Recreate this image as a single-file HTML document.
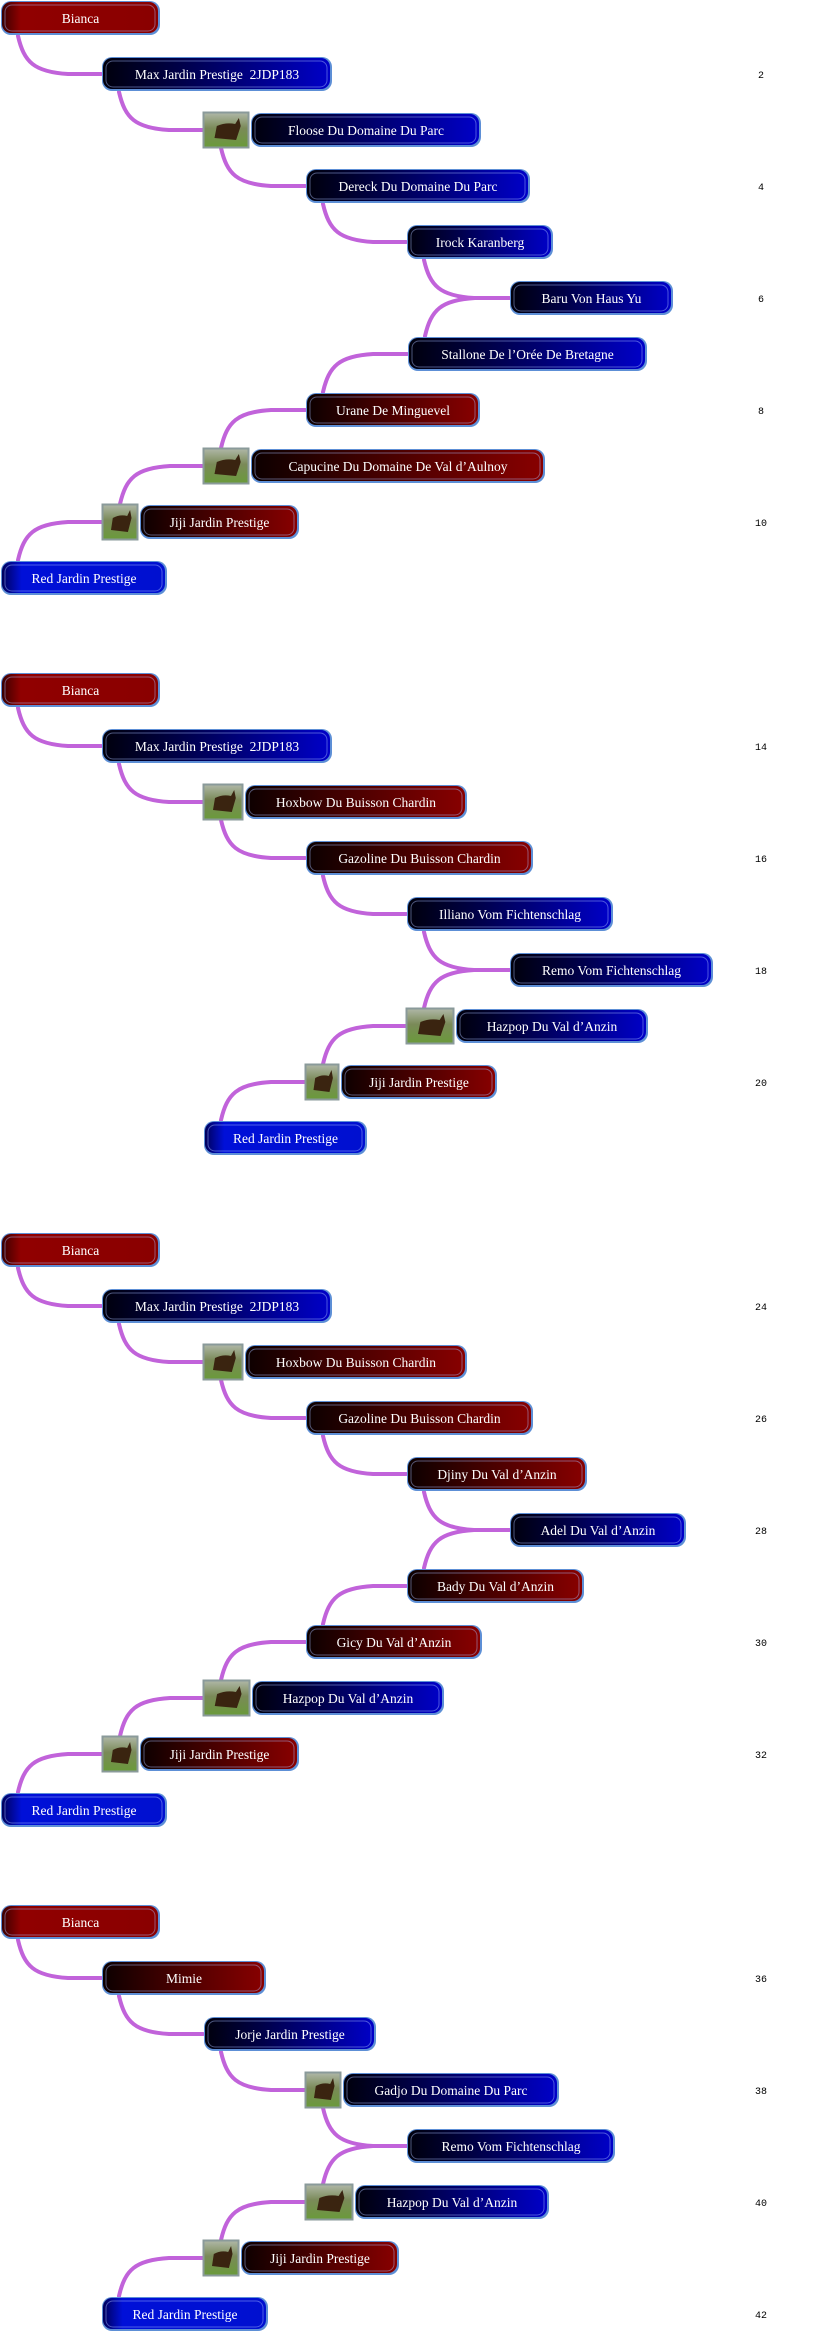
<!DOCTYPE html>
<html><head><meta charset="utf-8">
<style>
html,body{margin:0;padding:0;background:#fff;width:827px;height:2352px;overflow:hidden}
svg{display:block}
text{white-space:pre}
</style></head>
<body>
<svg id="chart" width="827" height="2352" viewBox="0 0 827 2352" xmlns="http://www.w3.org/2000/svg">
<defs>
<linearGradient id="gb" x1="0" x2="1" y1="0" y2="0"><stop offset="0" stop-color="#00000c"/><stop offset="0.35" stop-color="#00004a"/><stop offset="1" stop-color="#0000c8"/></linearGradient>
<linearGradient id="gr" x1="0" x2="1" y1="0" y2="0"><stop offset="0" stop-color="#0c0000"/><stop offset="0.35" stop-color="#3a0000"/><stop offset="1" stop-color="#880000"/></linearGradient>
<linearGradient id="gR" x1="0" x2="1" y1="0" y2="0"><stop offset="0" stop-color="#3a0000"/><stop offset="0.12" stop-color="#900000"/><stop offset="1" stop-color="#8a0000"/></linearGradient>
<linearGradient id="gB" x1="0" x2="1" y1="0" y2="0"><stop offset="0" stop-color="#00005a"/><stop offset="0.12" stop-color="#0010d8"/><stop offset="1" stop-color="#0010d0"/></linearGradient>
<linearGradient id="gimg" x1="0" x2="0" y1="0" y2="1"><stop offset="0" stop-color="#b0b8a8"/><stop offset="0.45" stop-color="#7a8a58"/><stop offset="1" stop-color="#6a9a3a"/></linearGradient>
</defs>
<g id="links"></g>
<g id="nodes"></g>
<g id="nums"></g>
</svg>
<script>
// row index, start x, image width, box width, name, colour kind
const rows   = [0,1,2,3,4,5,6,7,8,9,10, 12,13,14,15,16,17,18,19,20, 22,23,24,25,26,27,28,29,30,31,32, 34,35,36,37,38,39,40,41];
const xs     = [0,101,203,305,406,509,407,305,203,102,0, 0,101,203,305,406,509,406,305,203, 0,101,203,305,406,509,406,305,203,102,0, 0,101,203,305,406,305,203,101];
const imgs   = [0,0,46,0,0,0,0,0,46,36,0, 0,0,40,0,0,0,48,34,0, 0,0,40,0,0,0,0,0,47,36,0, 0,0,0,36,0,48,36,0];
const widths = [161,232,232,226,148,165,241,176,296,161,168, 161,232,224,229,208,205,194,158,165, 161,232,224,229,182,178,179,178,194,161,168, 161,166,174,218,210,196,160,168];
const names  = ["Bianca","Max Jardin Prestige  2JDP183","Floose Du Domaine Du Parc","Dereck Du Domaine Du Parc","Irock Karanberg","Baru Von Haus Yu","Stallone De l\u2019Or\u00e9e De Bretagne","Urane De Minguevel","Capucine Du Domaine De Val d\u2019Aulnoy","Jiji Jardin Prestige","Red Jardin Prestige",
 "Bianca","Max Jardin Prestige  2JDP183","Hoxbow Du Buisson Chardin","Gazoline Du Buisson Chardin","Illiano Vom Fichtenschlag","Remo Vom Fichtenschlag","Hazpop Du Val d\u2019Anzin","Jiji Jardin Prestige","Red Jardin Prestige",
 "Bianca","Max Jardin Prestige  2JDP183","Hoxbow Du Buisson Chardin","Gazoline Du Buisson Chardin","Djiny Du Val d\u2019Anzin","Adel Du Val d\u2019Anzin","Bady Du Val d\u2019Anzin","Gicy Du Val d\u2019Anzin","Hazpop Du Val d\u2019Anzin","Jiji Jardin Prestige","Red Jardin Prestige",
 "Bianca","Mimie","Jorje Jardin Prestige","Gadjo Du Domaine Du Parc","Remo Vom Fichtenschlag","Hazpop Du Val d\u2019Anzin","Jiji Jardin Prestige","Red Jardin Prestige"];
const kinds  = ["R","b","b","b","b","b","b","r","r","r","B", "R","b","r","r","b","b","b","r","B", "R","b","r","r","r","b","r","r","b","r","B", "R","r","b","b","b","b","r","B"];
const numLabels = [2,4,6,8,10,14,16,18,20,24,26,28,30,32,36,38,40,42];

const NS="http://www.w3.org/2000/svg";
const rowY = r => 18 + r*56;
const links=document.getElementById('links'), nodesG=document.getElementById('nodes'), numsG=document.getElementById('nums');
function mk(tag, attrs, parent){const e=document.createElementNS(NS,tag);for(const k in attrs)e.setAttribute(k,attrs[k]);parent.appendChild(e);return e;}

for(let i=0;i<rows.length-1;i++){
  if(rows[i+1]!==rows[i]+1) continue;
  let a=i,b=i+1;
  let low = xs[a]<xs[b]?a:b, high = low===a?b:a;
  const sx=xs[low]+18, ex=xs[high], ey=rowY(rows[high]);
  const down = rows[low]<rows[high];
  const sy = down ? rowY(rows[low])+18 : rowY(rows[low])-18;
  const d=`M${sx},${sy} C${sx+6},${down?ey-12:ey+12} ${sx+16},${down?ey-2:ey+2} ${sx+50},${ey} L${ex},${ey}`;
  const p=mk('path',{d:d,fill:'none',stroke:'#c163da','stroke-width':4,'stroke-linecap':'round'},links);
  
  
}

const fills={b:'url(#gb)',r:'url(#gr)',R:'url(#gR)',B:'url(#gB)'};
for(let i=0;i<rows.length;i++){
  const yc=rowY(rows[i]);
  const g=mk('g',{},nodesG);
  
  
  let bx=xs[i];
  if(imgs[i]){
    const im=mk('rect',{x:xs[i]+0.5,y:yc-17.5,width:imgs[i]-1,height:35,fill:'url(#gimg)',stroke:'#8a9a9a','stroke-width':2},g);
    
    
    mk('path',{d:`M${xs[i]+imgs[i]*0.25},${yc+8} L${xs[i]+imgs[i]*0.3},${yc-4} Q${xs[i]+imgs[i]*0.5},${yc-8} ${xs[i]+imgs[i]*0.7},${yc-6} L${xs[i]+imgs[i]*0.78},${yc-12} L${xs[i]+imgs[i]*0.82},${yc-4} L${xs[i]+imgs[i]*0.72},${yc+10}`,fill:'#3a2410'},g);
    bx=xs[i]+imgs[i]+1;
  }
  const w=widths[i];
  mk('rect',{x:bx+1,y:yc-17,width:w-2,height:34,rx:10,fill:'#5d8fd6'},g);
  const box=mk('rect',{x:bx+2,y:yc-16,width:w-5,height:31,rx:9,fill:fills[kinds[i]]},g);
  
  
  mk('rect',{x:bx+5,y:yc-13,width:w-11,height:26,rx:7,fill:'none',stroke:'rgba(170,190,255,0.45)','stroke-width':1},g);
  const t=mk('text',{x:bx+w/2,y:yc+5,'text-anchor':'middle',fill:'#fff','font-family':'"Liberation Serif", serif','font-size':13.5},g);
  t.textContent=names[i];
  
  
}

for(const n of numLabels){
  const t=mk('text',{x:761,y:rowY(n-1)+4,'text-anchor':'middle',fill:'#000','font-family':'"Liberation Mono", monospace','font-size':10},numsG);
  t.textContent=n;
  
  
}
</script>
</body></html>
